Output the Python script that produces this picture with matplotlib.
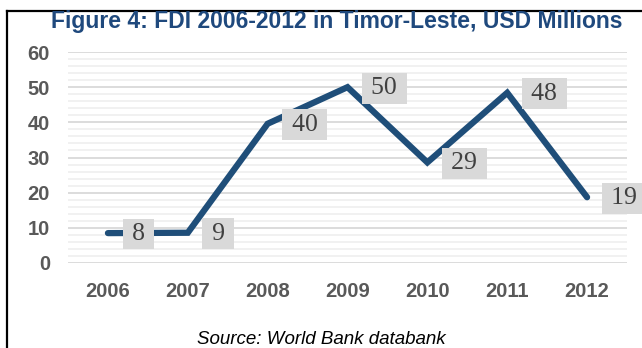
import matplotlib
matplotlib.use("Agg")
import matplotlib.pyplot as plt
from matplotlib.lines import Line2D
from matplotlib.ticker import MultipleLocator

years = ["2006", "2007", "2008", "2009", "2010", "2011", "2012"]
fdi = [8.5, 8.6, 39.6, 50.0, 28.6, 48.4, 18.7]
labels = ["8", "9", "40", "50", "29", "48", "19"]

W, H = 642, 348
fig = plt.figure(figsize=(W / 100, H / 100), dpi=100)
ax = fig.add_axes([68 / W, 1 - 263 / H, (627 - 68) / W, (263 - 52) / H])

x = list(range(len(years)))
ax.plot(x, fdi, color="#1F4E79", lw=4.5, solid_capstyle="round", solid_joinstyle="miter", zorder=3)

for xi, yi, lab in zip(x, fdi, labels):
    ax.annotate("\u2009" + lab + "\u2009", (xi, yi), xytext=(19, -1), textcoords="offset pixels",
                ha="left", va="center", fontsize=18.5, family="Liberation Serif",
                color="#404040", zorder=4,
                bbox=dict(boxstyle="square,pad=0.17", fc="#D9D9D9", ec="none"))

ax.set_xlim(-0.5, 6.5)
ax.set_ylim(0, 60)
ax.set_xticks(x)
ax.set_xticklabels(years)
ax.yaxis.set_major_locator(MultipleLocator(10))
ax.yaxis.set_minor_locator(MultipleLocator(2))
ax.grid(axis="y", which="major", color="#D9D9D9", lw=1.3, zorder=1)
ax.grid(axis="y", which="minor", color="#F0F0F0", lw=1.3, zorder=1)
ax.tick_params(axis="both", which="both", length=0)
ax.tick_params(axis="y", pad=13)
ax.tick_params(axis="x", pad=14)
for lab in ax.get_xticklabels() + ax.get_yticklabels():
    lab.set_fontweight("bold")
    lab.set_fontsize(14.5)
    lab.set_color("#595959")
    lab.set_family("Liberation Sans")
for s in ax.spines.values():
    s.set_visible(False)

fig.text(337 / W, 1 - 28 / H, "Figure 4: FDI 2006-2012 in Timor-Leste, USD Millions",
         ha="center", va="baseline", fontsize=16.5, fontweight="bold",
         color="#1F497D", family="Liberation Sans")
fig.text(321 / W, 1 - 344 / H, "Source: World Bank databank", ha="center", va="baseline",
         fontsize=13.5, style="italic", color="#000000", family="Liberation Sans")

fig.add_artist(Line2D([7 / W, 7 / W], [0, 1 - 11 / H], transform=fig.transFigure, color="black", lw=1.6))
fig.add_artist(Line2D([7 / W, 1], [1 - 11 / H, 1 - 11 / H], transform=fig.transFigure, color="black", lw=1.6))

fig.savefig("out.png", dpi=100)
